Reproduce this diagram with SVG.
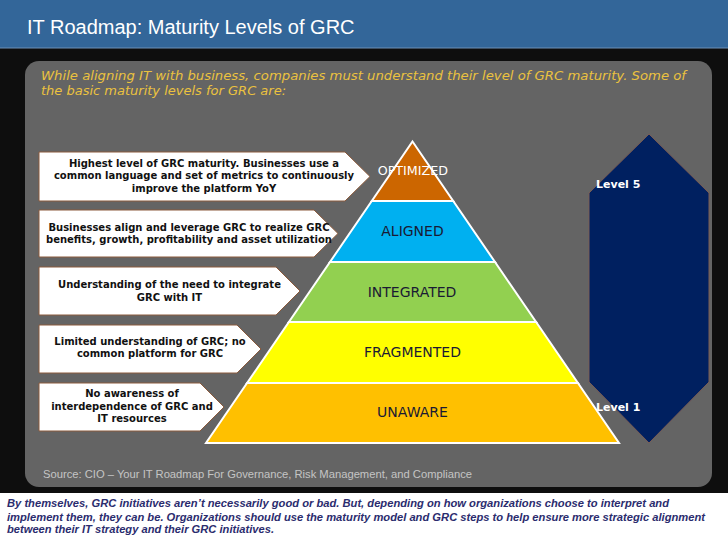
<svg xmlns="http://www.w3.org/2000/svg" width="728" height="546" viewBox="0 0 728 546">
<style>
.title{font-family:"Liberation Sans",Arial,sans-serif;font-size:20px;fill:#ffffff}
.intro{font-family:"DejaVu Sans",Verdana,sans-serif;font-style:italic;font-size:13px;fill:#EBC23F}
.src{font-family:"Liberation Sans",Arial,sans-serif;font-size:11.2px;fill:#c4c4c4}
.foot{font-family:"Liberation Sans",Arial,sans-serif;font-size:11.2px;font-weight:bold;font-style:italic;fill:#2B2C6E}
.call{fill:#ffffff;stroke:#8B5A3C;stroke-width:1}
.ct{font-family:"DejaVu Sans",Verdana,sans-serif;font-size:10px;font-weight:bold;fill:#111111;text-anchor:middle}
.band{stroke:#ffffff;stroke-width:2;stroke-linejoin:miter}
.bt{font-family:"DejaVu Sans",Verdana,sans-serif;font-size:14px;fill:#1a1a33;text-anchor:middle}
.lv{font-family:"DejaVu Sans",Verdana,sans-serif;font-size:11px;font-weight:bold;fill:#ffffff}
</style>
<rect x="0" y="0" width="728" height="546" fill="#0e0e0e"/>
<rect x="0" y="0" width="728" height="48" fill="#336699"/>
<rect x="0" y="47.5" width="728" height="1" fill="#6d8fb8"/>
<text class="title" x="27" y="34">IT Roadmap: Maturity Levels of GRC</text>
<rect x="25" y="61" width="687" height="426" rx="14" ry="14" fill="#646464"/>
<text class="intro" x="41" y="80" textLength="645" lengthAdjust="spacingAndGlyphs">While aligning IT with business, companies must understand their level of GRC maturity. Some of</text>
<text class="intro" x="41" y="95">the basic maturity levels for GRC are:</text>

<g id="callout-optimized">
<polygon class="call" points="39,152 345,152 370,176.5 345,201 39,201"/>
<text class="ct" x="204" y="166.7">Highest level of GRC maturity. Businesses use a</text>
<text class="ct" x="204" y="179.2">common language and set of metrics to continuously</text>
<text class="ct" x="204" y="191.7">improve the platform YoY</text>
</g>
<g id="callout-aligned">
<polygon class="call" points="39,210 314,210 338,233.5 314,257 39,257"/>
<text class="ct" x="189" y="230.7">Businesses align and leverage GRC to realize GRC</text>
<text class="ct" x="189" y="242.7">benefits, growth, profitability and asset utilization</text>
</g>
<g id="callout-integrated">
<polygon class="call" points="39,267 276,267 300,291 276,315 39,315"/>
<text class="ct" x="169.5" y="288.3">Understanding of the need to integrate</text>
<text class="ct" x="169.5" y="300.7">GRC with IT</text>
</g>
<g id="callout-fragmented">
<polygon class="call" points="39,325 237,325 261,349 237,373 39,373"/>
<text class="ct" x="150" y="345">Limited understanding of GRC; no</text>
<text class="ct" x="150" y="357.3">common platform for GRC</text>
</g>
<g id="callout-unaware">
<polygon class="call" points="39,383 200,383 224,407 200,431 39,431"/>
<text class="ct" x="132" y="397.3">No awareness of</text>
<text class="ct" x="132" y="409.5">interdependence of GRC and</text>
<text class="ct" x="132" y="421.7">IT resources</text>
</g>

<g id="pyramid">
<g id="band-unaware">
<polygon class="band" fill="#FFC000" points="247.1,383 577.9,383 619,443 206,443"/>
<text class="bt" x="412.5" y="417.3">UNAWARE</text>
</g>
<g id="band-fragmented">
<polygon class="band" fill="#FFFF00" points="288.9,322 536.1,322 577.9,383 247.1,383"/>
<text class="bt" x="412.5" y="357">FRAGMENTED</text>
</g>
<g id="band-integrated">
<polygon class="band" fill="#92D050" points="330,262 495,262 536.1,322 288.9,322"/>
<text class="bt" x="412" y="296.7">INTEGRATED</text>
</g>
<g id="band-aligned">
<polygon class="band" fill="#00B0F0" points="371.8,201 453.2,201 495,262 330,262"/>
<text class="bt" x="412.5" y="236">ALIGNED</text>
</g>
<g id="band-optimized">
<polygon class="band" fill="#CC6600" points="412.5,141.5 453.2,201 371.8,201"/>
<text class="bt" x="412.8" y="175" style="fill:#ffffff;font-size:12.7px">OPTIMIZED</text>
</g>
</g>

<g id="level-arrow">
<polygon points="649,134 709,193 709,382 649,443 589,382 589,193" fill="#002060" stroke="#7a5c55" stroke-width="1"/>
<text class="lv" x="596" y="188.3">Level 5</text>
<text class="lv" x="596" y="411">Level 1</text>
</g>

<text class="src" x="43" y="478" textLength="429" lengthAdjust="spacingAndGlyphs">Source: CIO – Your IT Roadmap For Governance, Risk Management, and Compliance</text>
<rect x="0" y="493" width="728" height="53" fill="#ffffff"/>
<text class="foot" x="7" y="507.3" textLength="662" lengthAdjust="spacingAndGlyphs">By themselves, GRC initiatives aren’t necessarily good or bad. But, depending on how organizations choose to interpret and</text>
<text class="foot" x="7" y="520.7" textLength="698" lengthAdjust="spacingAndGlyphs">implement them, they can be. Organizations should use the maturity model and GRC steps to help ensure more strategic alignment</text>
<text class="foot" x="7" y="533.3" textLength="267" lengthAdjust="spacingAndGlyphs">between their IT strategy and their GRC initiatives.</text>
</svg>
